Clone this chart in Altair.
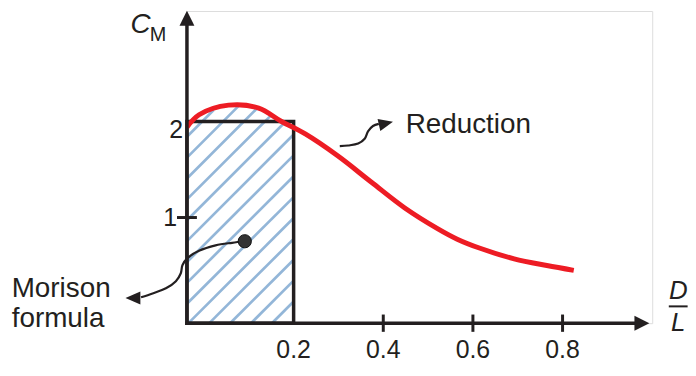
import numpy as np
import pandas as pd
import altair as alt

# ---------------- data ----------------
curve_x = [-0.038, -0.011, 0.055, 0.122, 0.173, 0.226, 0.299, 0.373, 0.448,
           0.521, 0.565, 0.616, 0.692, 0.765, 0.825]
curve_y = [1.94, 2.07, 2.17, 2.14, 2.00, 1.87, 1.64, 1.37, 1.10,
           0.885, 0.775, 0.68, 0.57, 0.50, 0.45]

x_min, x_max = -0.038, 1.0
y_min, y_max = -0.1, 3.15

morison_limit = 0.2     # D/L limit of the Morison region
morison_cm = 2.0        # C_M of the Morison formula

x_tick_labels = [0.2, 0.4, 0.6, 0.8]
x_tick_text = ["0.2", "0.4", "0.6", "0.8"]
x_tick_marks = [0.4, 0.6, 0.8]
y_tick_marks = [1]

dot_x, dot_y = [0.091], [0.753]

morison_arrow_x = [0.091, 0.0627, 0.0259, -0.0111, -0.037, -0.0481, -0.0517,
                   -0.0627, -0.0849, -0.1146, -0.1404]
morison_arrow_y = [0.753, 0.737, 0.71, 0.653, 0.577, 0.503, 0.42,
                   0.337, 0.263, 0.21, 0.17]
reduction_arrow_x = [0.303, 0.3215, 0.344, 0.3585, 0.366, 0.377, 0.390]
reduction_arrow_y = [1.743, 1.75, 1.77, 1.82, 1.897, 1.953, 1.975]

W, H = 468, 314
INK = "#231f20"
FONT = "Liberation Sans"

xs = alt.Scale(domain=[x_min, x_max], nice=False, zero=False)
ys = alt.Scale(domain=[y_min, y_max], nice=False, zero=False)


def X(f="x"):
    return alt.X(f, type="quantitative", scale=xs, axis=None)


def Y(f="y"):
    return alt.Y(f, type="quantitative", scale=ys, axis=None)


# ---------------- hatch lines (45 degrees on screen) ----------------
px_x = W / (x_max - x_min)
px_y = H / (y_max - y_min)
spacing = 21.0
grid = np.linspace(x_min, morison_limit, 3000)
top = np.maximum(np.interp(grid, curve_x, curve_y), morison_cm)
rows = []
for k in range(-10, 80):
    c = -132 + spacing * k
    yl = (px_x * grid - c) / px_y
    ok = (yl >= y_min) & (yl <= top)
    idx = np.where(ok)[0]
    if len(idx) < 2:
        continue
    i0, i1 = idx[0], idx[-1]
    rows.append(dict(x=grid[i0], y=yl[i0], x2=grid[i1], y2=yl[i1]))
hatch_df = pd.DataFrame(rows)

hatch = alt.Chart(hatch_df).mark_rule(color="#93b6d8", strokeWidth=2.7).encode(
    x=X("x"), y=Y("y"), x2="x2:Q", y2="y2:Q")

rect_df = pd.DataFrame({"x": [x_min], "x2": [morison_limit],
                        "y": [y_min], "y2": [morison_cm]})
rect = alt.Chart(rect_df).mark_rect(fill=None, fillOpacity=0, stroke=INK,
                                    strokeWidth=3.5).encode(
    x=X("x"), x2="x2:Q", y=Y("y"), y2="y2:Q")

curve = alt.Chart(pd.DataFrame({"x": curve_x, "y": curve_y})).mark_line(
    color="#ed1c24", strokeWidth=5, interpolate="catmull-rom").encode(x=X(), y=Y())

# axes
xaxis = alt.Chart(pd.DataFrame({"x": [x_min], "x2": [0.97], "y": [y_min]})).mark_rule(
    color=INK, strokeWidth=3.5, strokeCap="square").encode(x=X("x"), x2="x2:Q", y=Y("y"))
yaxis = alt.Chart(pd.DataFrame({"x": [x_min], "y": [y_min], "y2": [3.06]})).mark_rule(
    color=INK, strokeWidth=3.5, strokeCap="square").encode(x=X("x"), y=Y("y"), y2="y2:Q")

xhead = alt.Chart(pd.DataFrame({"x": [0.977], "y": [y_min]})).mark_point(
    shape="M1,0L-1,-1L-1,1Z", filled=True, size=225, color=INK, opacity=1,
    strokeWidth=0).encode(x=X(), y=Y())
yhead = alt.Chart(pd.DataFrame({"x": [x_min], "y": [3.075]})).mark_point(
    shape="M0,-1L-1,1L1,1Z", filled=True, size=225, color=INK, opacity=1,
    strokeWidth=0).encode(x=X(), y=Y())

xt = pd.DataFrame({"x": x_tick_marks})
xt["y"] = y_min - 0.09
xt["y2"] = y_min + 0.09
xticks = alt.Chart(xt).mark_rule(color=INK, strokeWidth=3).encode(
    x=X("x"), y=Y("y"), y2="y2:Q")
yt = pd.DataFrame({"y": y_tick_marks})
yt["x"] = x_min - 0.0222
yt["x2"] = x_min + 0.0222
yticks = alt.Chart(yt).mark_rule(color=INK, strokeWidth=3).encode(
    x=X("x"), x2="x2:Q", y=Y("y"))

# tick labels
xl = pd.DataFrame({"x": x_tick_labels, "t": x_tick_text})
xl["y"] = y_min
xlabels = alt.Chart(xl).mark_text(font=FONT, fontSize=25, color=INK, align="center",
                                  baseline="alphabetic", dy=35).encode(
    x=X(), y=Y(), text="t:N")
yl1 = alt.Chart(pd.DataFrame({"x": [x_min], "y": [1], "t": ["1"]})).mark_text(
    font=FONT, fontSize=25, color=INK, align="right", baseline="alphabetic",
    dx=-10, dy=9).encode(x=X(), y=Y(), text="t:N")
yl2 = alt.Chart(pd.DataFrame({"x": [x_min], "y": [2], "t": ["2"]})).mark_text(
    font=FONT, fontSize=25, color=INK, align="right", baseline="alphabetic",
    dx=-4, dy=17).encode(x=X(), y=Y(), text="t:N")

# axis titles
c_lab = alt.Chart(pd.DataFrame({"x": [-0.164], "y": [2.92], "t": ["C"]})).mark_text(
    font=FONT, fontSize=28, fontStyle="italic", color=INK, align="left",
    baseline="alphabetic").encode(x=X(), y=Y(), text="t:N")
m_lab = alt.Chart(pd.DataFrame({"x": [-0.121], "y": [2.84], "t": ["M"]})).mark_text(
    font=FONT, fontSize=20, color=INK, align="left",
    baseline="alphabetic").encode(x=X(), y=Y(), text="t:N")
dl_df = pd.DataFrame({"x": [1.058, 1.058], "y": [0.15, -0.18], "t": ["D", "L"]})
dl_lab = alt.Chart(dl_df).mark_text(font=FONT, fontSize=26, fontStyle="italic",
                                    color=INK, align="center",
                                    baseline="alphabetic").encode(x=X(), y=Y(), text="t:N")
frac = alt.Chart(pd.DataFrame({"x": [1.037], "x2": [1.079], "y": [0.075]})).mark_rule(
    color=INK, strokeWidth=2).encode(x=X("x"), x2="x2:Q", y=Y("y"))

# annotations
dot = alt.Chart(pd.DataFrame({"x": dot_x, "y": dot_y})).mark_point(
    shape="circle", filled=True, size=177, color="#333333", opacity=1,
    stroke="#111111", strokeWidth=1).encode(x=X(), y=Y())

mor = pd.DataFrame({"x": morison_arrow_x, "y": morison_arrow_y,
                    "o": range(len(morison_arrow_x))})
mor_line = alt.Chart(mor).mark_line(color=INK, strokeWidth=2.2,
                                    interpolate="catmull-rom").encode(
    x=X(), y=Y(), order="o:Q")
mor_head = alt.Chart(pd.DataFrame({"x": [-0.1585], "y": [0.163]})).mark_point(
    shape="M1,0L-1,-0.87L-1,0.87Z", filled=True, size=225, color=INK, opacity=1,
    strokeWidth=0, angle=180).encode(x=X(), y=Y())

red = pd.DataFrame({"x": reduction_arrow_x, "y": reduction_arrow_y,
                    "o": range(len(reduction_arrow_x))})
red_line = alt.Chart(red).mark_line(color=INK, strokeWidth=2.2,
                                    interpolate="catmull-rom").encode(
    x=X(), y=Y(), order="o:Q")
red_head = alt.Chart(pd.DataFrame({"x": [0.406], "y": [1.98]})).mark_point(
    shape="M1,0L-1,-0.85L-1,0.85Z", filled=True, size=210, color=INK, opacity=1,
    strokeWidth=0, angle=347).encode(x=X(), y=Y())

txt_df = pd.DataFrame({"x": [0.450, -0.429, -0.429], "y": [1.88, 0.175, -0.14],
                       "t": ["Reduction", "Morison", "formula"]})
texts = alt.Chart(txt_df).mark_text(font=FONT, fontSize=28, color=INK, align="left",
                                    baseline="alphabetic").encode(
    x=X(), y=Y(), text="t:N")

chart = alt.layer(
    hatch, rect, curve, xaxis, yaxis, xhead, yhead, xticks, yticks,
    xlabels, yl1, yl2, c_lab, m_lab, dl_lab, frac,
    mor_line, mor_head, dot, red_line, red_head, texts
).properties(
    width=W, height=H,
    padding={"left": 180, "top": 2, "right": 36, "bottom": 38},
    autosize=alt.AutoSizeParams(type="none"),
).configure_view(stroke=None).configure(background="white")

chart.save("out.html", embed_options={"renderer": "svg", "actions": False})
